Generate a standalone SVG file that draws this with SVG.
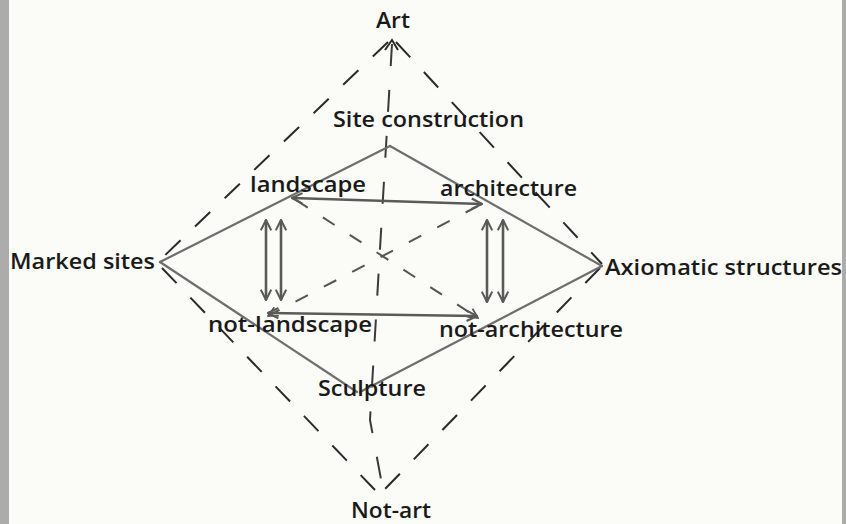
<svg xmlns="http://www.w3.org/2000/svg" width="846" height="524" viewBox="0 0 846 524">
<defs>
<style>
.lbl{font-family:"Open Sans","Liberation Sans",sans-serif;font-size:21px;font-weight:600;fill:#1a1a1a}
.solid{stroke:#6e6e6e;stroke-width:2.2;fill:none;stroke-linecap:round}
.arr{stroke:#5a5a5a;stroke-width:2.6;fill:none}
.dash{stroke:#2a2a2a;stroke-width:2;fill:none;stroke-dasharray:21 20}
.dashv{stroke:#3a3a3a;stroke-width:2;fill:none;stroke-dasharray:22 24}
.dashin{stroke:#555;stroke-width:2;fill:none;stroke-dasharray:14 18}
</style>
<marker id="ah" viewBox="0 0 10 10" refX="9" refY="5" markerWidth="5" markerHeight="5" orient="auto-start-reverse" markerUnits="strokeWidth">
<path d="M1,1 L9,5 L1,9" fill="none" stroke="#5a5a5a" stroke-width="1.6"/>
</marker>
<marker id="ahd" viewBox="0 0 10 10" refX="9" refY="5" markerWidth="6" markerHeight="6" orient="auto" markerUnits="strokeWidth">
<path d="M1,1 L9,5 L1,9" fill="none" stroke="#555" stroke-width="1.4"/>
</marker>
</defs>
<rect x="0" y="0" width="846" height="524" fill="#fbfbf7"/>
<rect x="0" y="0" width="9" height="524" fill="#acacac"/>
<rect x="842" y="0" width="4" height="524" fill="#acacac"/>
<g id="connectors">
<line class="dash" x1="388" y1="42" x2="160" y2="260"/>
<line class="dash" x1="396" y1="42" x2="602" y2="264"/>
<line class="dash" x1="162" y1="268" x2="375" y2="490"/>
<line class="dash" x1="600" y1="268" x2="384" y2="490"/>
<polyline class="dashv" points="392,44 370,420 383,490"/>
<path d="M385,50 L392,40 L398,50" fill="none" stroke="#2a2a2a" stroke-width="2"/>
<line class="solid" x1="390" y1="146" x2="160" y2="262"/>
<line class="solid" x1="390" y1="146" x2="602" y2="266"/>
<line class="solid" x1="160" y1="262" x2="357" y2="392"/>
<line class="solid" x1="602" y1="266" x2="360" y2="392"/>
<line class="dashin" x1="296" y1="200" x2="478" y2="318" marker-end="url(#ahd)"/>
<line class="dashin" x1="478" y1="206" x2="268" y2="316" marker-end="url(#ahd)"/>
<line class="arr" x1="482" y1="204" x2="292" y2="198" marker-start="url(#ah)" marker-end="url(#ah)"/>
<line class="arr" x1="477" y1="316" x2="268" y2="313" marker-start="url(#ah)" marker-end="url(#ah)"/>
<line class="arr" x1="266" y1="220" x2="266" y2="300" marker-start="url(#ah)" marker-end="url(#ah)"/>
<line class="arr" x1="281" y1="220" x2="281" y2="300" marker-start="url(#ah)" marker-end="url(#ah)"/>
<line class="arr" x1="487" y1="220" x2="487" y2="302" marker-start="url(#ah)" marker-end="url(#ah)"/>
<line class="arr" x1="503" y1="220" x2="503" y2="302" marker-start="url(#ah)" marker-end="url(#ah)"/>
</g>
<g id="art"><text class="lbl" x="376" y="28" textLength="34" lengthAdjust="spacingAndGlyphs">Art</text></g>
<g id="site-construction"><text class="lbl" x="333" y="127" textLength="191" lengthAdjust="spacingAndGlyphs">Site construction</text></g>
<g id="landscape"><text class="lbl" x="250" y="192" textLength="116" lengthAdjust="spacingAndGlyphs">landscape</text></g>
<g id="architecture"><text class="lbl" x="440" y="196" textLength="137" lengthAdjust="spacingAndGlyphs">architecture</text></g>
<g id="marked-sites"><text class="lbl" x="10" y="269" textLength="145" lengthAdjust="spacingAndGlyphs">Marked sites</text></g>
<g id="axiomatic-structures"><text class="lbl" x="605" y="275" textLength="237" lengthAdjust="spacingAndGlyphs">Axiomatic structures</text></g>
<g id="not-landscape"><text class="lbl" x="208" y="332" textLength="164" lengthAdjust="spacingAndGlyphs">not-landscape</text></g>
<g id="not-architecture"><text class="lbl" x="439" y="337" textLength="184" lengthAdjust="spacingAndGlyphs">not-architecture</text></g>
<g id="sculpture"><text class="lbl" x="318" y="396" textLength="108" lengthAdjust="spacingAndGlyphs">Sculpture</text></g>
<g id="not-art"><text class="lbl" x="351" y="518" textLength="80" lengthAdjust="spacingAndGlyphs">Not-art</text></g>
</svg>
